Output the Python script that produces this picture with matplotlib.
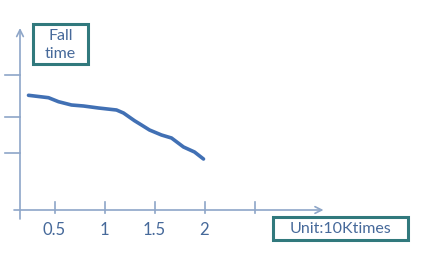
import numpy as np
import matplotlib.pyplot as plt
from matplotlib.patches import Rectangle

# data (x in units of 10K times, y in relative fall time units)
count = [0.24, 0.44, 0.54, 0.67, 0.79, 0.94, 1.12, 1.19, 1.30, 1.37,
         1.45, 1.57, 1.67, 1.79, 1.90, 1.99]
fall_time = [114.7, 112.3, 108.3, 105.0, 104.0, 102.0, 100.0, 97.0, 89.3, 85.0,
             80.0, 75.0, 72.0, 63.0, 58.0, 51.0]
x_ticks = [0.5, 1, 1.5, 2, 2.5]
x_tick_labels = ['0.5', '1', '1.5', '2', '']
y_ticks = [57, 93, 135]

axis_color = '#8ea6c8'
line_color = '#4170b4'
text_color = '#46699a'
box_color = '#31797d'

plt.rcParams['font.family'] = ['Lato', 'DejaVu Sans']

fig = plt.figure(figsize=(4.29, 2.59), dpi=100)
ax = fig.add_axes([0, 0, 1, 1])
ax.set_xlim(-0.045, 4.245)
ax.set_ylim(-49, 210)
ax.axis('off')

# axes with arrows
ax.annotate('', xy=(3.19, 0), xytext=(0.095, 0),
            arrowprops=dict(arrowstyle='->', color=axis_color, lw=1.2,
                            mutation_scale=12, shrinkA=0, shrinkB=0))
ax.annotate('', xy=(0.155, 182), xytext=(0.155, -9),
            arrowprops=dict(arrowstyle='->', color=axis_color, lw=1.2,
                            mutation_scale=12, shrinkA=0, shrinkB=0))

# ticks
for t, lab in zip(x_ticks, x_tick_labels):
    ax.plot([t, t], [-3, 8], color=axis_color, lw=1.2)
    ax.text(t, -20, lab, ha='center', va='center', fontsize=12, color=text_color)
for t in y_ticks:
    ax.plot([0.005, 0.155], [t, t], color=axis_color, lw=1.2)

# curve
ax.plot(count, fall_time, color=line_color, lw=2.6, solid_capstyle='round',
        solid_joinstyle='round')

# label boxes
ax.add_patch(Rectangle((0.285, 146), 0.55, 40, fill=False, ec=box_color, lw=2.2))
ax.text(0.56, 165, 'Fall\ntime', ha='center', va='center', fontsize=11.5,
        color=text_color, linespacing=1.45)
ax.add_patch(Rectangle((2.685, -30), 1.35, 23, fill=False, ec=box_color, lw=2.2))
ax.text(3.36, -19, 'Unit:10Ktimes', ha='center', va='center', fontsize=11.5,
        color=text_color)

fig.savefig('out.png', dpi=100)
